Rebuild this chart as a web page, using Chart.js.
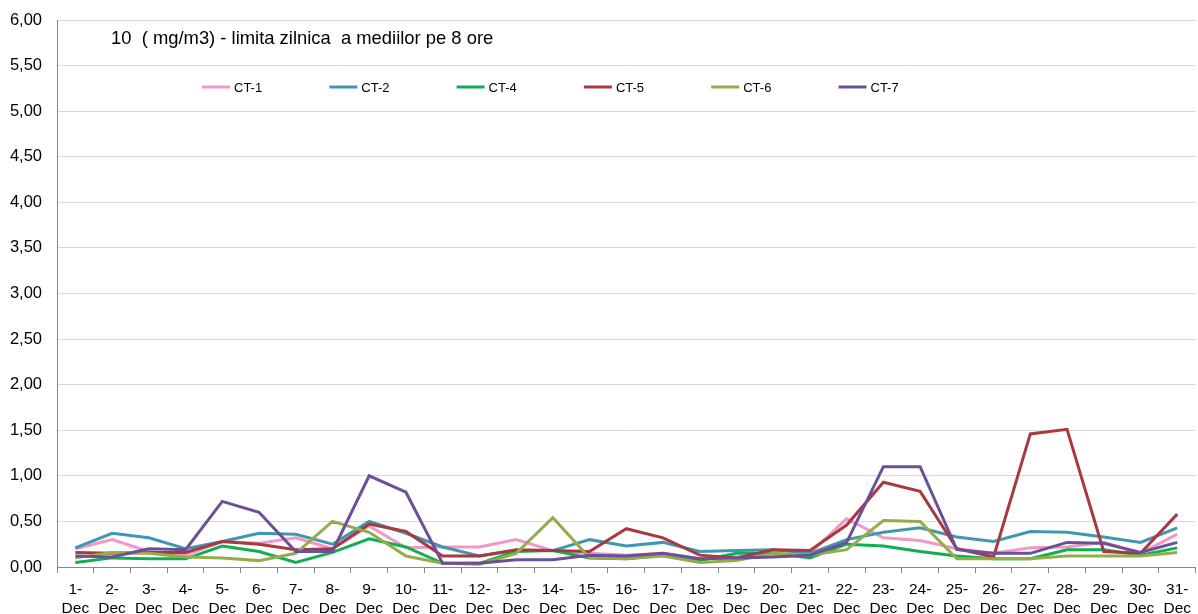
<!DOCTYPE html>
<html>
<head>
<meta charset="utf-8">
<script src="https://cdn.jsdelivr.net/npm/chart.js@4.4.1/dist/chart.umd.min.js"></script>
<style>
  html, body { margin: 0; padding: 0; background: #fff; }
  #wrap { width: 1198px; height: 614px; position: relative; }
</style>
</head>
<body>
<div id="wrap"><canvas id="grafic"></canvas></div>
<script>
// ---- date ----
const zile = ["1-Dec","2-Dec","3-Dec","4-Dec","5-Dec","6-Dec","7-Dec","8-Dec","9-Dec","10-Dec",
  "11-Dec","12-Dec","13-Dec","14-Dec","15-Dec","16-Dec","17-Dec","18-Dec","19-Dec","20-Dec",
  "21-Dec","22-Dec","23-Dec","24-Dec","25-Dec","26-Dec","27-Dec","28-Dec","29-Dec","30-Dec","31-Dec"];

const ct1 = [0.20,0.30,0.17,0.13,0.28,0.26,0.32,0.20,0.45,0.21,0.22,0.22,0.30,0.18,0.15,0.13,0.15,0.09,0.11,0.13,0.15,0.53,0.32,0.29,0.20,0.15,0.21,0.22,0.27,0.15,0.36];
const ct2 = [0.21,0.37,0.32,0.20,0.28,0.37,0.36,0.25,0.50,0.37,0.22,0.12,0.18,0.18,0.30,0.23,0.27,0.17,0.18,0.19,0.15,0.30,0.38,0.43,0.33,0.28,0.39,0.38,0.33,0.27,0.43];
const ct4 = [0.05,0.10,0.09,0.09,0.23,0.17,0.05,0.16,0.31,0.22,0.04,0.04,0.17,0.18,0.10,0.09,0.13,0.07,0.15,0.15,0.10,0.25,0.23,0.17,0.12,0.09,0.09,0.19,0.19,0.13,0.21];
const ct5 = [0.16,0.15,0.16,0.16,0.28,0.25,0.19,0.20,0.47,0.39,0.12,0.12,0.19,0.18,0.17,0.42,0.32,0.13,0.10,0.19,0.18,0.46,0.93,0.83,0.20,0.11,1.46,1.51,0.17,0.15,0.58];
const ct6 = [0.10,0.16,0.15,0.11,0.10,0.07,0.15,0.50,0.38,0.12,0.04,0.03,0.15,0.54,0.10,0.09,0.12,0.05,0.07,0.15,0.13,0.19,0.51,0.50,0.09,0.09,0.09,0.12,0.12,0.12,0.16];
const ct7 = [0.12,0.11,0.20,0.19,0.72,0.60,0.17,0.17,1.00,0.82,0.04,0.04,0.08,0.08,0.13,0.12,0.15,0.09,0.10,0.11,0.13,0.27,1.10,1.10,0.19,0.15,0.15,0.27,0.26,0.16,0.27];

const serii = ["CT-1","CT-2","CT-4","CT-5","CT-6","CT-7"];
const culori = ["#F596C8","#4297B0","#10AF52","#A8393C","#92AD4A","#6D4F98"];
const valori = [ct1, ct2, ct4, ct5, ct6, ct7];

const titlu = "10  ( mg/m3) - limita zilnica  a mediilor pe 8 ore";
const FONT = "'Liberation Sans', Arial, sans-serif";

// titlu + legenda desenate in interiorul zonei graficului
const legendaInterior = {
  id: "legendaInterior",
  afterDraw(chart) {
    const ctx = chart.ctx;
    ctx.save();
    ctx.fillStyle = "#000";
    ctx.font = "18.4px " + FONT;
    ctx.textBaseline = "middle";
    ctx.textAlign = "left";
    ctx.fillText(titlu, 111, 39);

    ctx.font = "13px " + FONT;
    chart.data.datasets.forEach((ds, i) => {
      const x = 202 + i * 127.3;
      const y = 87;
      ctx.strokeStyle = ds.borderColor;
      ctx.lineWidth = 3;
      ctx.beginPath();
      ctx.moveTo(x, y);
      ctx.lineTo(x + 28, y);
      ctx.stroke();
      ctx.fillStyle = "#000";
      ctx.fillText(ds.label, x + 32, y + 1);
    });
    ctx.restore();
  }
};

new Chart(document.getElementById("grafic"), {
  type: "line",
  data: {
    labels: zile,
    datasets: serii.map((nume, i) => ({
      label: nume,
      data: valori[i],
      borderColor: culori[i],
      backgroundColor: culori[i],
      borderWidth: 3,
      pointRadius: 0,
      tension: 0,
      order: serii.length - i
    }))
  },
  options: {
    responsive: true,
    maintainAspectRatio: false,
    animation: false,
    layout: { padding: { top: 20, right: 0, left: 0, bottom: 0 } },
    plugins: {
      legend: { display: false },
      tooltip: { enabled: false }
    },
    scales: {
      x: {
        offset: true,
        afterFit(scale) { scale.height = 47; },
        border: { color: "#868686", width: 1 },
        grid: {
          offset: true,
          drawOnChartArea: false,
          drawTicks: true,
          tickLength: 6,
          color: "#868686"
        },
        ticks: {
          autoSkip: false,
          maxRotation: 0,
          minRotation: 0,
          padding: 7,
          color: "#000",
          font: { family: FONT, size: 15.5, lineHeight: 1.25 },
          callback(value) {
            const t = this.getLabelForValue(value);
            const p = t.split("-");
            return [p[0] + "-", p[1]];
          }
        }
      },
      y: {
        min: 0,
        max: 6,
        afterFit(scale) {
          scale.width = 57;
          scale.paddingTop = 0;
          scale.paddingBottom = 0;
        },
        border: { color: "#868686", width: 1 },
        grid: { color: "#D9D9D9", drawTicks: false },
        ticks: {
          stepSize: 0.5,
          padding: 15,
          color: "#000",
          font: { family: FONT, size: 16.5 },
          callback: v => v.toFixed(2).replace(".", ",")
        }
      }
    }
  },
  plugins: [legendaInterior]
});
</script>
</body>
</html>
